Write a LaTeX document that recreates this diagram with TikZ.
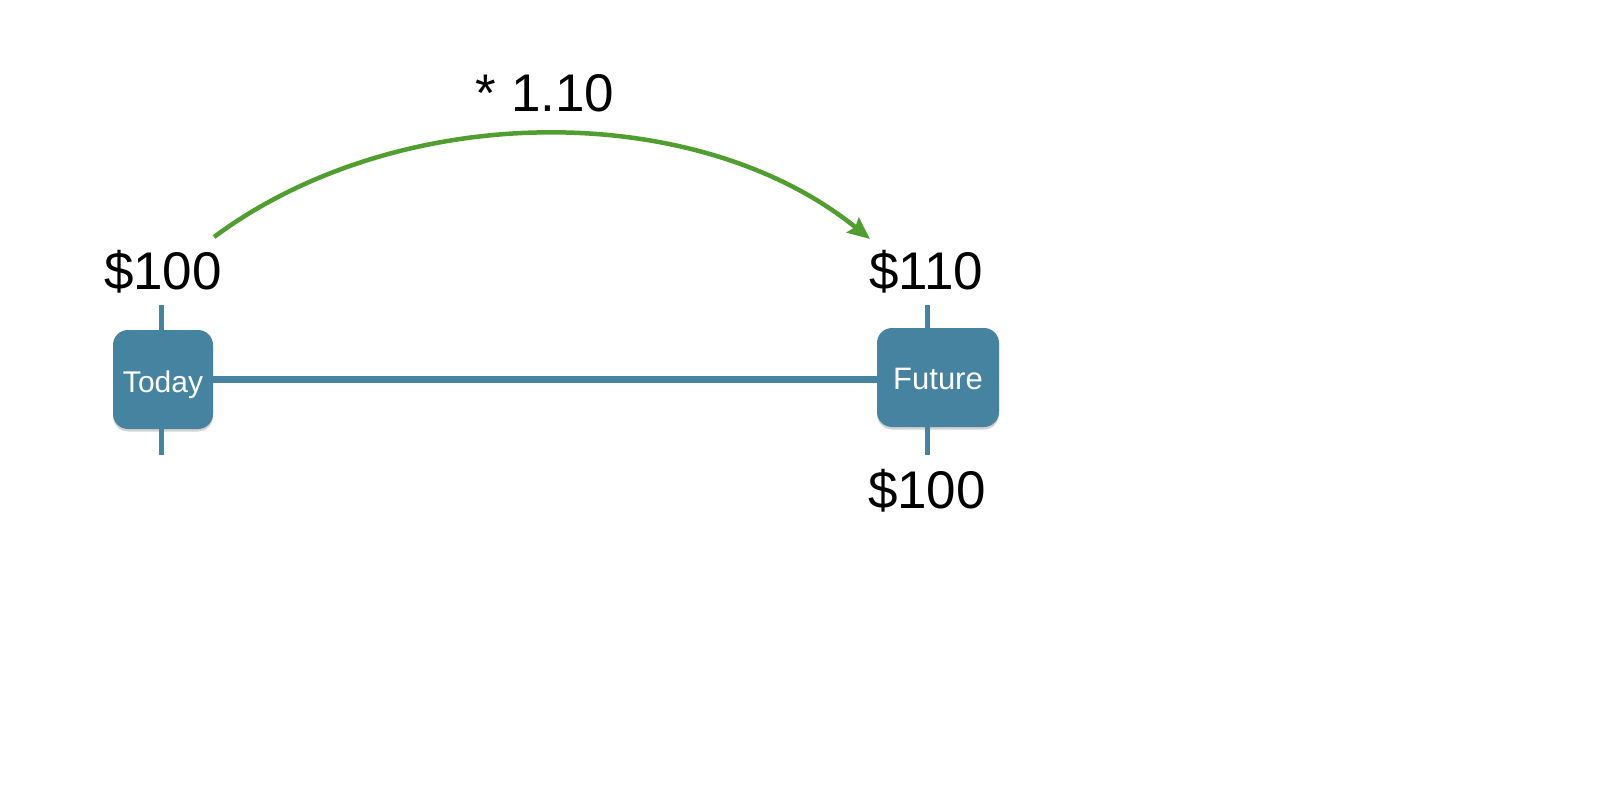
\documentclass[tikz,border=0pt]{standalone}
\usepackage{fontspec}
\setmainfont{Liberation Sans}
\usetikzlibrary{arrows.meta,shadows}
\definecolor{tlblue}{RGB}{70,131,161}
\definecolor{arcgreen}{RGB}{80,158,48}
\tikzset{
  datebox/.style={fill=tlblue, rounded corners=15pt, text=white, inner sep=0pt,
    drop shadow={opacity=0.35, shadow xshift=0pt, shadow yshift=-2.5pt}},
  money/.style={anchor=base, inner sep=0pt, font=\fontsize{53}{60}\selectfont},
  tick/.style={draw=tlblue, line width=5pt},
  axis/.style={draw=tlblue, line width=7.5pt},
  growth/.style={draw=arcgreen, line width=4.5pt, -{Stealth[length=22pt,width=19pt,inset=3pt]}}
}
\begin{document}
\begin{tikzpicture}[x=1pt,y=-1pt]
\useasboundingbox (0,0) rectangle (1600,810);
\coordinate (tTop) at (161,305);
\coordinate (tBot) at (161,455);
\coordinate (fTop) at (927,305);
\coordinate (fBot) at (927,455);
\node[datebox, minimum width=100pt, minimum height=99pt, text height=25pt, text depth=0pt,
  font=\fontsize{30}{34}\selectfont] (today) at (163,379.5) {Today};
\node[datebox, minimum width=122pt, minimum height=99pt, text height=23pt, text depth=0pt,
  font=\fontsize{31}{34}\selectfont] (future) at (938,377.5) {Future};
\draw[tick] (tTop) -- (tTop |- today.north);
\draw[tick] (tBot) -- (tBot |- today.south);
\draw[tick] (fTop) -- (fTop |- future.north);
\draw[tick] (fBot) -- (fBot |- future.south);
\draw[axis] (today.east) -- (today.east -| future.west);
\node[money] (p100) at (163,290) {\$100};
\node[money] (p110) at (926,290) {\$110};
\node[money] (f100) at (927,508) {\$100};
\node[money] (mult) at (545,112) {* 1.10};
\coordinate (arcS) at (214,237);
\coordinate (arcE) at (870,239);
\draw[growth] (arcS) .. controls (400,99) and (697,99) .. (arcE);
\end{tikzpicture}
\end{document}
